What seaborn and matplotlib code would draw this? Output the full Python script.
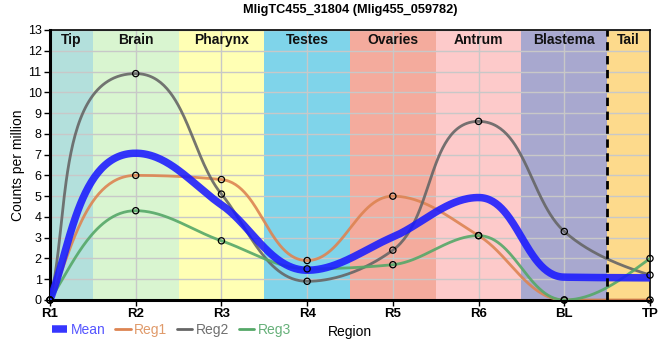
import numpy as np
import pandas as pd
import matplotlib
matplotlib.use("Agg")
import matplotlib.pyplot as plt
import seaborn as sns
from matplotlib.lines import Line2D

# ---- data ----
regions = ["R1", "R2", "R3", "R4", "R5", "R6", "BL", "TP"]
reg1 = [0.0, 6.0, 5.8, 1.9, 5.0, 3.1, 0.0, 0.0]
reg2 = [0.0, 10.9, 5.1, 0.9, 2.4, 8.6, 3.3, 1.2]
reg3 = [0.0, 4.3, 2.85, 1.5, 1.7, 3.1, 0.0, 2.0]
mean = list(np.mean([reg1, reg2, reg3], axis=0))

band_names = ["Tip", "Brain", "Pharynx", "Testes", "Ovaries", "Antrum", "Blastema", "Tail"]
band_edges = [0.0, 0.5, 1.5, 2.5, 3.5, 4.5, 5.5, 6.5, 7.0]
band_colors = ["#b3e0dc", "#d9f5d0", "#ffffb4", "#7fd4ea", "#f4ab9d", "#fdcaca", "#a8a8cf", "#fdda8c"]

title = "MligTC455_31804 (Mlig455_059782)"


def smooth_curve(ax, x, y, n=60):
    """Monotone-tangent Bezier curve drawn through the data points,
    handle lengths = chord/3 measured in screen space."""
    x = np.asarray(x, float)
    y = np.asarray(y, float)
    x0, x1 = ax.get_xlim()
    y0, y1 = ax.get_ylim()
    sx = ax.bbox.width / (x1 - x0)
    sy = ax.bbox.height / (y1 - y0)
    m = len(x)
    h = np.diff(x)
    s = np.diff(y) / h
    t = np.zeros(m)
    for i in range(1, m - 1):
        p = (s[i - 1] * h[i] + s[i] * h[i - 1]) / (h[i - 1] + h[i])
        t[i] = (np.sign(s[i - 1]) + np.sign(s[i])) * min(abs(s[i - 1]), abs(s[i]), 0.5 * abs(p))
    t[0] = (3 * s[0] - t[1]) / 2
    t[-1] = (3 * s[-1] - t[-2]) / 2
    P = np.column_stack([x * sx, y * sy])
    mp = t * sy / sx
    U = np.column_stack([np.ones(m), mp]) / np.sqrt(1 + mp**2)[:, None]
    pts = []
    for i in range(m - 1):
        L = np.linalg.norm(P[i + 1] - P[i]) / 3
        c1 = P[i] + L * U[i]
        c2 = P[i + 1] - L * U[i + 1]
        u = np.linspace(0, 1, n, endpoint=(i == m - 2))[:, None]
        B = ((1 - u) ** 3) * P[i] + 3 * u * (1 - u) ** 2 * c1 + 3 * u**2 * (1 - u) * c2 + u**3 * P[i + 1]
        pts.append(B)
    B = np.vstack(pts)
    return B[:, 0] / sx, B[:, 1] / sy


sns.set_theme(style="white")
plt.rcParams["font.family"] = ["Liberation Sans", "DejaVu Sans"]
plt.rcParams["text.color"] = "black"
plt.rcParams["axes.labelcolor"] = "black"

fig = plt.figure(figsize=(6.6, 3.6), dpi=100)
ax = fig.add_axes([50 / 660, 1 - 300 / 360, 600 / 660, 270 / 360])
ax.set_xlim(0, 7)
ax.set_ylim(0, 13)

xpos = np.arange(len(regions))

# background bands
for i, name in enumerate(band_names):
    ax.axvspan(band_edges[i], band_edges[i + 1], color=band_colors[i], zorder=0, lw=0)
    ax.text((band_edges[i] + band_edges[i + 1]) / 2, 12.52, name, ha="center", va="center",
            fontsize=10, fontweight="bold", color="#111111", zorder=5)

ax.axvline(6.5, color="black", lw=2, ls=(0, (3, 2)), zorder=4)

# grid
ax.set_yticks(range(0, 14))
ax.set_xticks(xpos)
ax.set_xticklabels(regions)
ax.grid(True, color="#c8c8c8", lw=1, zorder=1)
ax.set_axisbelow(True)

series = [("Reg1", reg1, "#dd8452"), ("Reg2", reg2, "#666666"), ("Reg3", reg3, "#55a868")]
for name, vals, col in series:
    cx, cy = smooth_curve(ax, xpos, vals)
    df = pd.DataFrame({"x": cx, "y": cy})
    sns.lineplot(data=df, x="x", y="y", ax=ax, color=col, lw=2.0, alpha=0.9, zorder=3,
                 sort=False, estimator=None)

cx, cy = smooth_curve(ax, xpos, mean)
sns.lineplot(data=pd.DataFrame({"x": cx, "y": cy}), x="x", y="y", ax=ax, color="#1a1aff",
             lw=5.4, alpha=0.88, zorder=3.5, sort=False, estimator=None, solid_capstyle="butt")

for name, vals, col in series:
    sns.scatterplot(x=xpos, y=vals, ax=ax, s=20, facecolor="none", edgecolor="black",
                    linewidth=0.9, zorder=6, clip_on=False)

ax.set_xlim(0, 7)
ax.set_ylim(0, 13)
ax.tick_params(axis="both", labelsize=9, length=4, width=1, color="black", pad=2,
               bottom=True, left=True, labelcolor="black")
for lab in ax.get_xticklabels():
    lab.set_fontsize(9.5)
    lab.set_fontweight("bold")

for side in ["left", "bottom"]:
    ax.spines[side].set_linewidth(2.2)
    ax.spines[side].set_color("black")
for side in ["top", "right"]:
    ax.spines[side].set_linewidth(1.2)
    ax.spines[side].set_color("black")
    ax.spines[side].set_visible(True)

ax.set_ylabel("Counts per million", fontsize=10)
ax.yaxis.set_label_coords(-0.042, 0.5)
ax.set_xlabel("Region", fontsize=10)
ax.xaxis.set_label_coords(0.5, -25 / 270)
ax.set_title(title, fontsize=9.2, fontweight="bold", pad=12, color="black")

handles = [
    Line2D([], [], color="#1a1aff", lw=5.4, alpha=0.88, solid_capstyle="butt"),
    Line2D([], [], color="#dd8452", lw=2.0),
    Line2D([], [], color="#666666", lw=2.0),
    Line2D([], [], color="#55a868", lw=2.0),
]
labels = ["Mean", "Reg1", "Reg2", "Reg3"]
leg = fig.legend(handles, labels, loc="center left", bbox_to_anchor=(52 / 660, 1 - 330 / 360),
                 ncol=4, frameon=False, fontsize=10, handlelength=1.1, handletextpad=0.25,
                 columnspacing=0.7, borderaxespad=0, borderpad=0)
leg_colors = ["#5555ff", "#e09a6a", "#707070", "#66b079"]
for txt, c in zip(leg.get_texts(), leg_colors):
    txt.set_color(c)

fig.savefig("out.png", dpi=100)
